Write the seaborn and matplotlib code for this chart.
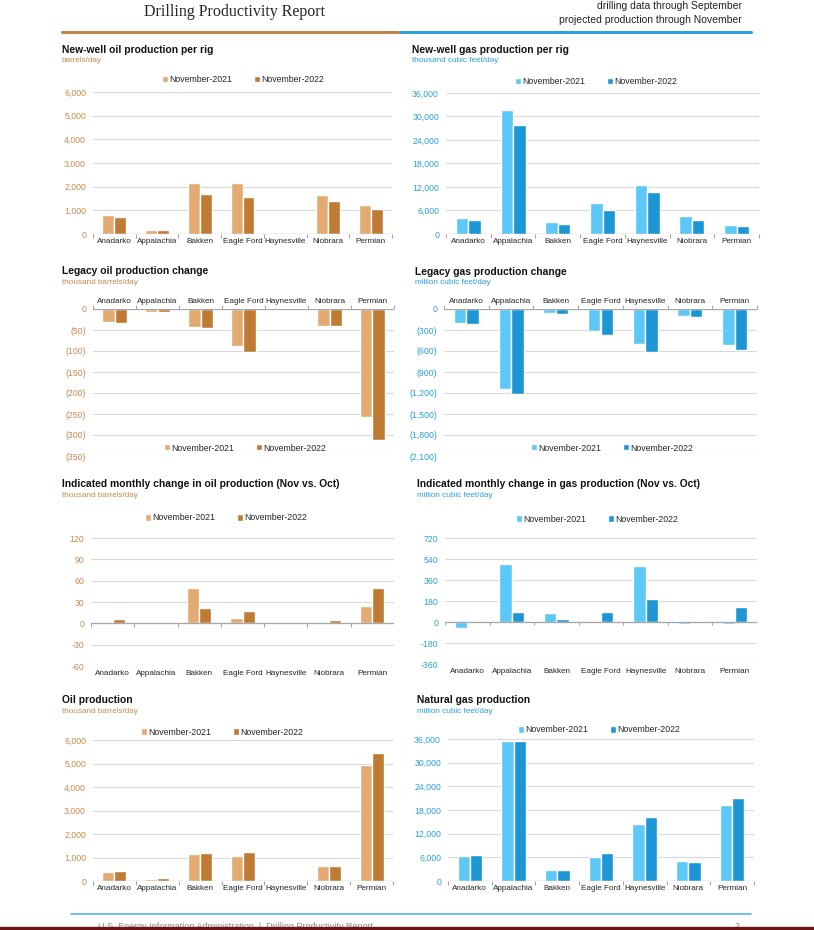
import numpy as np
import pandas as pd
import matplotlib
matplotlib.use("Agg")
import matplotlib.pyplot as plt
import matplotlib.ticker as mticker
from matplotlib.lines import Line2D
from matplotlib.patches import Rectangle
import seaborn as sns

W, H = 814, 930

BASINS = ["Anadarko", "Appalachia", "Bakken", "Eagle Ford", "Haynesville", "Niobrara", "Permian"]
YEARS = ["November-2021", "November-2022"]

# new-well production per rig
oil_rig_2021 = [800, 180, 2170, 2150, 0, 1630, 1230]
oil_rig_2022 = [700, 180, 1700, 1570, 0, 1390, 1050]
gas_rig_2021 = [4200, 31700, 3100, 7900, 12400, 4600, 2300]
gas_rig_2022 = [3700, 27800, 2500, 6100, 10700, 3500, 2000]

# legacy production change
oil_legacy_2021 = [-30, -6, -44, -89, 0, -41, -258]
oil_legacy_2022 = [-34, -7, -46, -102, 0, -41, -313]
gas_legacy_2021 = [-200, -1140, -60, -320, -500, -100, -520]
gas_legacy_2022 = [-220, -1220, -70, -370, -610, -110, -590]

# indicated monthly change (Nov vs. Oct)
oil_month_2021 = [0, 0, 49, 7, 0.5, 1, 24]
oil_month_2022 = [6, 1, 21, 17, 0, 5, 50]
gas_month_2021 = [-50, 500, 80, 0, 480, -20, -15]
gas_month_2022 = [0, 90, 30, 90, 200, 10, 125]

# total production
oil_prod_2021 = [380, 100, 1160, 1060, 30, 640, 4950]
oil_prod_2022 = [430, 120, 1180, 1220, 40, 640, 5440]
gas_prod_2021 = [6300, 35400, 2900, 6000, 14500, 5100, 19200]
gas_prod_2022 = [6500, 35500, 2900, 7200, 16100, 4900, 21000]

OIL_COLORS = ["#E3AA72", "#BF7A34"]
GAS_COLORS = ["#5BC8F7", "#1C96D4"]
OIL_TEXT = "#C98A4E"
GAS_TEXT = "#2AA0DA"

comma_fmt = mticker.FuncFormatter(lambda v, p: f"{v:,.0f}")
paren_fmt = mticker.FuncFormatter(lambda v, p: f"({abs(v):,.0f})" if v < 0 else f"{v:,.0f}")
plain_fmt = mticker.FuncFormatter(lambda v, p: f"{v:.0f}")


def px_box(left, top, right, bottom):
    return [left / W, 1 - bottom / H, (right - left) / W, (bottom - top) / H]


def long_df(v21, v22):
    return pd.DataFrame({
        "basin": BASINS * 2,
        "year": [YEARS[0]] * len(BASINS) + [YEARS[1]] * len(BASINS),
        "value": v21 + v22,
    })


def draw_panel(fig, box, v21, v22, colors, text_color, yticks, fmt,
               title, subtitle, title_xy, legend_xy, mode="bottom"):
    ax = fig.add_axes(px_box(*box))
    sns.barplot(data=long_df(v21, v22), x="basin", y="value", hue="year",
                palette=colors, width=0.56, saturation=1, ax=ax)
    handles, labels = ax.get_legend_handles_labels()
    ax.get_legend().remove()

    ax.set_xlim(-0.5, len(BASINS) - 0.5)
    ax.set_ylim(yticks[0], yticks[-1])
    ax.set_yticks(yticks)
    ax.yaxis.set_major_formatter(fmt)
    ax.grid(axis="y", color="#D9D9D9", lw=0.8)
    ax.grid(axis="x", visible=False)
    ax.set_axisbelow(True)
    for s in ax.spines.values():
        s.set_visible(False)
    ax.set_xlabel("")
    ax.set_ylabel("")
    ax.tick_params(axis="y", length=0, labelsize=6.3, labelcolor=text_color, pad=5)
    ax.tick_params(axis="x", length=0, labelsize=5.9, labelcolor="#262626", pad=3)

    bounds = np.arange(-0.5, len(BASINS), 1.0)
    ax.axhline(0, color="#A6A6A6", lw=0.9, zorder=1)
    if mode == "top":
        ax.xaxis.tick_top()
        ax.set_xticks(bounds, minor=True)
        ax.tick_params(axis="x", which="minor", top=True, bottom=False,
                       length=3, color="#A6A6A6", width=0.8)
    elif mode == "bottom":
        ax.set_xticks(bounds, minor=True)
        ax.tick_params(axis="x", which="minor", bottom=True, length=3,
                       color="#A6A6A6", width=0.8)
    else:
        span = yticks[-1] - yticks[0]
        ax.vlines(bounds, 0, -span * 0.025, color="#A6A6A6", lw=0.8, zorder=1)

    fig.text(title_xy[0] / W, 1 - title_xy[1] / H, title, fontsize=7.4,
             fontweight="bold", ha="left", va="center", color="#111111")
    fig.text(title_xy[0] / W, 1 - (title_xy[1] + 11) / H, subtitle, fontsize=5.9,
             ha="left", va="center", color=text_color)
    fig.legend(handles, labels, loc="center",
               bbox_to_anchor=(legend_xy[0] / W, 1 - legend_xy[1] / H),
               ncol=2, frameon=False, fontsize=6.3, handlelength=0.7,
               handleheight=0.7, handletextpad=0.15, columnspacing=2.4,
               borderaxespad=0, borderpad=0)
    return ax


sns.set_style("white")
plt.rcParams["font.family"] = ["Liberation Sans", "DejaVu Sans"]

fig = plt.figure(figsize=(W / 100, H / 100), dpi=100)
fig.patch.set_facecolor("white")

# header
fig.text(235 / W, 1 - 12 / H, "Drilling Productivity Report", fontsize=11.5,
         family=["Liberation Serif", "DejaVu Serif"], ha="center", va="center")
fig.text(742 / W, 1 - 6 / H, "drilling data through September", fontsize=7.5,
         family=["Liberation Sans Narrow", "Liberation Sans"], ha="right", va="center", color="#222222")
fig.text(742 / W, 1 - 20 / H, "projected production through November", fontsize=7.5,
         family=["Liberation Sans Narrow", "Liberation Sans"], ha="right", va="center", color="#222222")
fig.add_artist(Line2D([62 / W, 398 / W], [1 - 32 / H] * 2, color="#C0854A", lw=2.2))
fig.add_artist(Line2D([400 / W, 751 / W], [1 - 32 / H] * 2, color="#2AA3D9", lw=2.2))

oil_k = [0, 1000, 2000, 3000, 4000, 5000, 6000]
gas_k = [0, 6000, 12000, 18000, 24000, 30000, 36000]

draw_panel(fig, (93, 92, 392, 234), oil_rig_2021, oil_rig_2022, OIL_COLORS, OIL_TEXT,
           oil_k, comma_fmt, "New-well oil production per rig", "barrels/day",
           (62, 50), (243, 80))
draw_panel(fig, (446, 93, 759, 234), gas_rig_2021, gas_rig_2022, GAS_COLORS, GAS_TEXT,
           gas_k, comma_fmt, "New-well gas production per rig", "thousand cubic feet/day",
           (412, 50), (596, 82))

draw_panel(fig, (93, 309, 394, 456), oil_legacy_2021, oil_legacy_2022, OIL_COLORS, OIL_TEXT,
           [-350, -300, -250, -200, -150, -100, -50, 0], paren_fmt,
           "Legacy oil production change", "thousand barrels/day",
           (62, 271), (245, 448), mode="top")
draw_panel(fig, (444, 309, 757, 456), gas_legacy_2021, gas_legacy_2022, GAS_COLORS, GAS_TEXT,
           [-2100, -1800, -1500, -1200, -900, -600, -300, 0], paren_fmt,
           "Legacy gas production change", "million cubic feet/day",
           (415, 272), (612, 448), mode="top")

draw_panel(fig, (91, 538, 394, 666), oil_month_2021, oil_month_2022, OIL_COLORS, OIL_TEXT,
           [-60, -30, 0, 30, 60, 90, 120], plain_fmt,
           "Indicated monthly change in oil production (Nov vs. Oct)", "thousand barrels/day",
           (62, 484), (226, 518), mode="low")
draw_panel(fig, (445, 538, 757, 664), gas_month_2021, gas_month_2022, GAS_COLORS, GAS_TEXT,
           [-360, -180, 0, 180, 360, 540, 720], plain_fmt,
           "Indicated monthly change in gas production (Nov vs. Oct)", "million cubic feet/day",
           (417, 484), (597, 519), mode="low")

draw_panel(fig, (93, 740, 393, 881), oil_prod_2021, oil_prod_2022, OIL_COLORS, OIL_TEXT,
           oil_k, comma_fmt, "Oil production", "thousand barrels/day",
           (62, 700), (222, 732))
draw_panel(fig, (448, 739, 754, 881), gas_prod_2021, gas_prod_2022, GAS_COLORS, GAS_TEXT,
           gas_k, comma_fmt, "Natural gas production", "million cubic feet/day",
           (417, 700), (599, 730))

# footer
fig.add_artist(Line2D([71 / W, 751 / W], [1 - 914 / H] * 2, color="#5BB8E6", lw=1.2))
fig.text(98 / W, 1 - 926 / H, "U.S. Energy Information Administration  |  Drilling Productivity Report",
         fontsize=6.5, color="#8C8C8C", ha="left", va="center")
fig.text(737 / W, 1 - 926 / H, "2", fontsize=6.5, color="#8C8C8C", ha="center", va="center")
fig.add_artist(Rectangle((0, 0), 1, 3.5 / H, transform=fig.transFigure,
                         color="#6E1515", zorder=10))

fig.savefig("out.png", dpi=100)
